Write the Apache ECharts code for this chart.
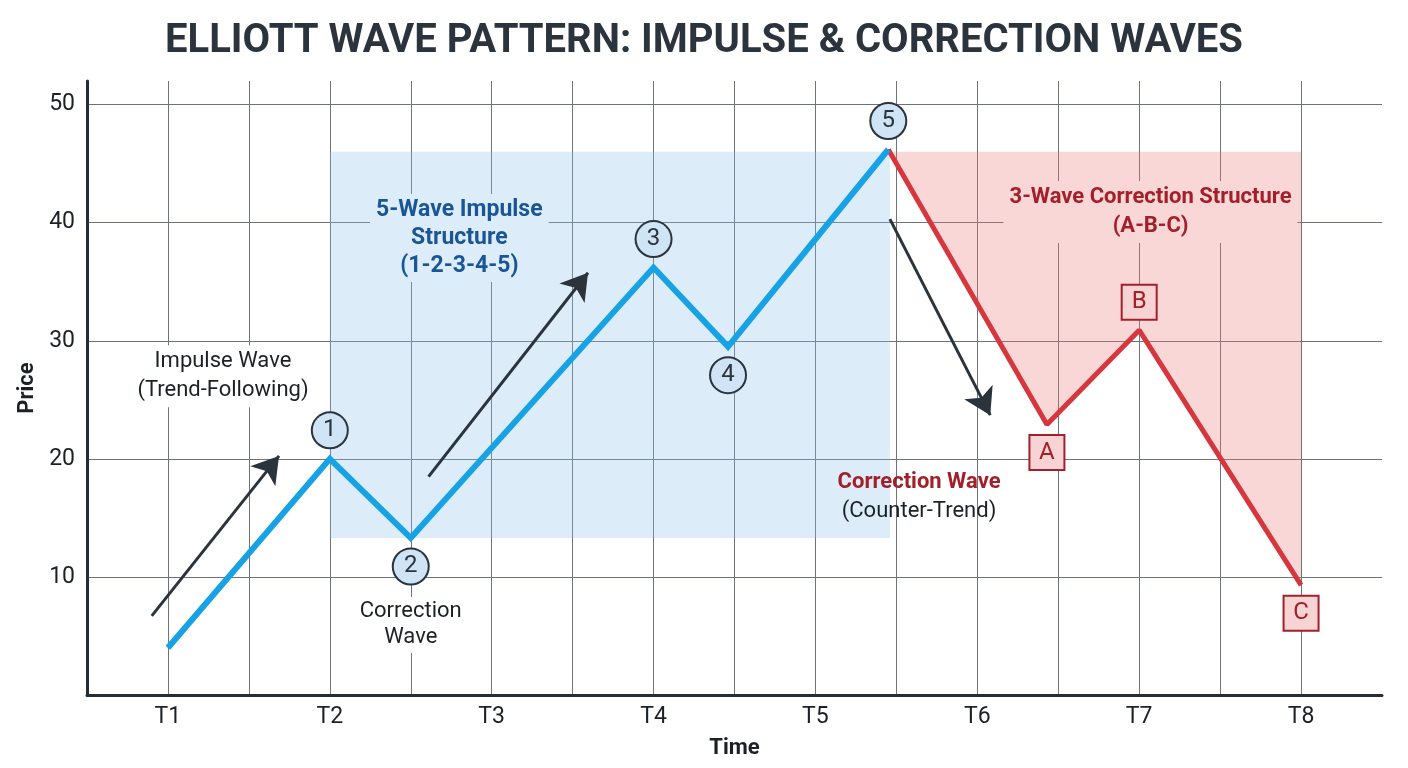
<!DOCTYPE html>
<html>
<head>
<meta charset="utf-8">
<title>Elliott Wave Pattern</title>
<script src="https://cdn.jsdelivr.net/npm/echarts@6/dist/echarts.min.js"></script>
<style>
  html, body { margin: 0; padding: 0; background: #ffffff; }
  #chart { width: 1408px; height: 768px; }
</style>
</head>
<body>
<div id="chart"></div>
<script>
const timeLabels = ["T1", "T2", "T3", "T4", "T5", "T6", "T7", "T8"];

// impulse leg: start, 1, 2, 3, 4, 5
const impulseTime = [1, 2, 2.5, 4, 4.46, 5.45];
const impulsePrice = [4, 20, 13.3, 36.2, 29.5, 46.2];
const impulseTags = ["", "1", "2", "3", "4", "5"];

// correction leg: 5, A, B, C
const correctionTime = [5.45, 6.43, 7.0, 8];
const correctionPrice = [46.2, 22.9, 30.9, 9.3];
const correctionTags = ["", "A", "B", "C"];

// shaded structures
const impulseZone = [2, 13.3, 5.46, 46]; // x0, y0, x1, y1
const correctionTop = 46;

// trend arrows: x0, y0, x1, y1 (end = arrow head centre)
const trendArrows = [
  [0.9, 6.7, 1.686, 20.25],
  [2.61, 18.5, 3.595, 35.76],
  [5.46, 40.3, 6.08, 23.7],
];

// text notes
const noteTime = [1.34, 2.8, 2.5, 7.07, 5.64];
const notePrice = [27.0, 38.7, 5.93, 40.9, 16.8];
const noteText = [
  "Impulse Wave\n(Trend-Following)",
  "5-Wave Impulse\nStructure\n(1-2-3-4-5)",
  "Correction\nWave",
  "3-Wave Correction Structure\n(A-B-C)",
  "{a|Correction Wave}\n{b|(Counter-Trend)}",
];

const FONT = "Roboto, 'Noto Sans', sans-serif";
const INK = "#2b333d";
const TEXT = "#1c2127";
const BLUE = "#18a2e6";
const RED = "#d6373f";
const DARK_RED = "#a3202a";
const NAVY = "#1a5596";

const chart = echarts.init(document.getElementById("chart"));

function tagSide(prices, i, prev) {
  const before = i > 0 ? prices[i - 1] : prev;
  return prices[i] > before ? "top" : "bottom";
}

const circleTag = {
  show: true,
  distance: 11,
  width: 34,
  height: 34,
  lineHeight: 34,
  align: "center",
  backgroundColor: "#cfe5f6",
  borderColor: INK,
  borderWidth: 2,
  borderRadius: 18,
  color: INK,
  fontSize: 24,
  fontFamily: FONT,
};

const boxTag = {
  show: true,
  distance: 11,
  width: 33,
  height: 33,
  lineHeight: 33,
  align: "center",
  backgroundColor: "#f7d3d3",
  borderColor: DARK_RED,
  borderWidth: 2,
  color: DARK_RED,
  fontSize: 24,
  fontFamily: FONT,
};

const impulseData = impulseTime.map((t, i) => ({
  value: [t, impulsePrice[i]],
  label: impulseTags[i]
    ? { ...circleTag, position: tagSide(impulsePrice, i, 0), formatter: impulseTags[i] }
    : { show: false },
}));

const correctionData = correctionTime.map((t, i) => ({
  value: [t, correctionPrice[i]],
  label: correctionTags[i]
    ? { ...boxTag, position: tagSide(correctionPrice, i, 0), formatter: correctionTags[i] }
    : { show: false },
}));

const plainNote = {
  show: true,
  position: "inside",
  color: TEXT,
  fontSize: 22,
  fontFamily: FONT,
  lineHeight: 29,
  align: "center",
  backgroundColor: "#ffffff",
  padding: [2, 6],
  textBorderWidth: 0,
  opacity: 1,
};

const noteStyles = [
  plainNote,
  { ...plainNote, color: NAVY, fontWeight: "bold", fontSize: 23, backgroundColor: "#dcedf9", lineHeight: 28 },
  { ...plainNote, lineHeight: 26 },
  { ...plainNote, color: DARK_RED, fontWeight: "bold", backgroundColor: "#f9d7d7", lineHeight: 29 },
  {
    ...plainNote,
    backgroundColor: "transparent",
    rich: {
      a: { color: DARK_RED, fontWeight: "bold", fontSize: 22, fontFamily: FONT, lineHeight: 29 },
      b: { color: TEXT, fontSize: 22, fontFamily: FONT, lineHeight: 29 },
    },
  },
];

const noteData = noteTime.map((t, i) => ({
  value: [t, notePrice[i]],
  label: { ...noteStyles[i], formatter: noteText[i] },
}));

const axisText = { color: TEXT, fontSize: 23, fontFamily: FONT };

chart.setOption({
  animation: false,
  backgroundColor: "#ffffff",
  title: {
    text: "ELLIOTT WAVE PATTERN: IMPULSE & CORRECTION WAVES",
    left: "center",
    top: 17,
    textStyle: { color: INK, fontSize: 40, fontWeight: "bold", fontFamily: FONT },
  },
  grid: { left: 87, right: 26, top: 81, bottom: 73, containLabel: false },
  xAxis: {
    type: "value",
    min: 0.5,
    max: 8.5,
    interval: 0.5,
    name: "Time",
    nameLocation: "middle",
    nameGap: 42,
    nameTextStyle: { ...axisText, fontSize: 22, fontWeight: "bold" },
    axisLine: { lineStyle: { color: "#272d34", width: 3 } },
    axisTick: { show: false },
    axisLabel: {
      ...axisText,
      margin: 11,
      formatter: (v) => (Number.isInteger(v) ? timeLabels[v - 1] || "" : ""),
    },
    splitLine: { show: true, showMaxLine: false, lineStyle: { color: "#6c737a", width: 1 } },
  },
  yAxis: {
    type: "value",
    min: 0,
    max: 52,
    interval: 10,
    name: "Price",
    nameLocation: "middle",
    nameGap: 48,
    nameTextStyle: { ...axisText, fontSize: 22, fontWeight: "bold" },
    axisLine: { show: true, lineStyle: { color: "#272d34", width: 3 } },
    axisTick: { show: false },
    axisLabel: {
      ...axisText,
      margin: 12,
      formatter: (v) => (v > 0 && v % 10 === 0 ? String(v) : ""),
    },
    splitLine: { show: true, showMaxLine: false, lineStyle: { color: "#6c737a", width: 1 } },
  },
  series: [
    {
      name: "impulse zone",
      type: "line",
      z: 1,
      data: [],
      silent: true,
      markArea: {
        silent: true,
        itemStyle: { color: "rgba(138,195,235,0.3)", opacity: 1 },
        data: [[
          { coord: [impulseZone[0], impulseZone[1]] },
          { coord: [impulseZone[2], impulseZone[3]] },
        ]],
      },
    },
    {
      name: "correction",
      type: "line",
      z: 3,
      data: correctionData,
      symbol: "circle",
      symbolSize: 1,
      showSymbol: true,
      lineStyle: { color: RED, width: 5 },
      itemStyle: { color: RED },
      areaStyle: { origin: correctionTop, color: "rgba(235,122,122,0.3)", opacity: 1 },
    },
    {
      name: "impulse",
      type: "line",
      z: 4,
      data: impulseData,
      symbol: "circle",
      symbolSize: 1,
      showSymbol: true,
      lineStyle: { color: BLUE, width: 6, join: "miter" },
      itemStyle: { color: BLUE },
    },
    {
      name: "arrows",
      type: "line",
      z: 5,
      data: [],
      markLine: {
        silent: true,
        symbol: ["none", "arrow"],
        symbolSize: [24, 26],
        label: { show: false },
        lineStyle: { color: INK, width: 3, type: "solid" },
        data: trendArrows.map((a) => [{ coord: [a[0], a[1]] }, { coord: [a[2], a[3]] }]),
      },
    },
    {
      name: "notes",
      type: "scatter",
      z: 6,
      silent: true,
      symbol: "circle",
      symbolSize: 1,
      itemStyle: { color: "rgba(0,0,0,0)", opacity: 1 },
      data: noteData,
    },
  ],
});
</script>
</body>
</html>
